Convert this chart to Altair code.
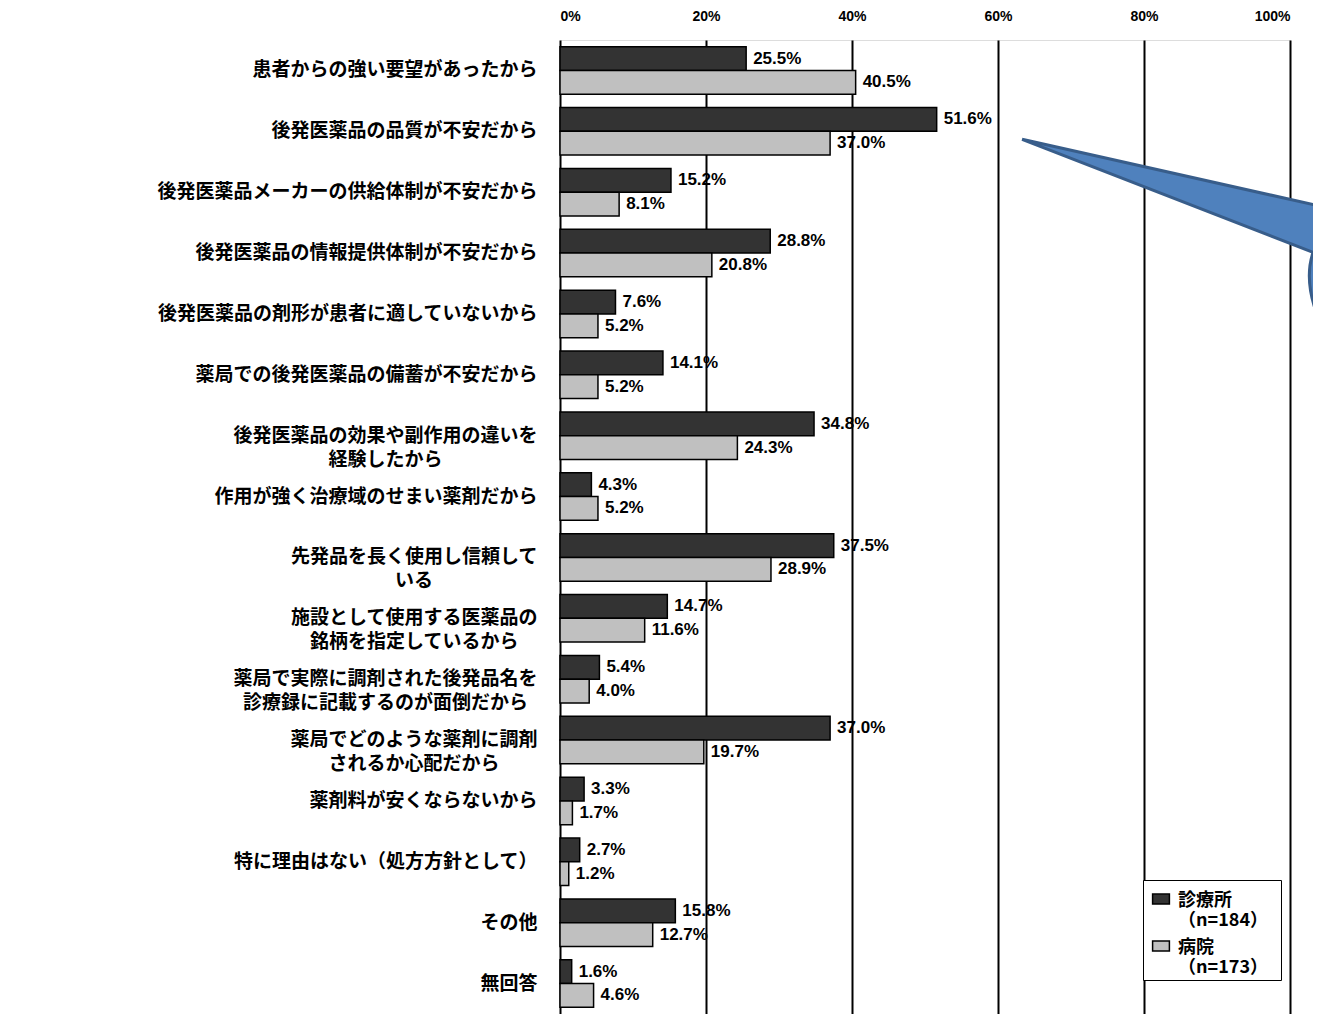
import altair as alt
import pandas as pd

# ---- data -------------------------------------------------------------
SP = "\u3000"   # ideographic space (used to centre the 2nd line of wrapped labels)
WJ = "\u2060"   # word joiner keeps trailing spaces from hanging
categories = [
    "患者からの強い要望があったから",
    "後発医薬品の品質が不安だから",
    "後発医薬品メーカーの供給体制が不安だから",
    "後発医薬品の情報提供体制が不安だから",
    "後発医薬品の剤形が患者に適していないから",
    "薬局での後発医薬品の備蓄が不安だから",
    "後発医薬品の効果や副作用の違いを\n経験したから" + SP * 5 + WJ,
    "作用が強く治療域のせまい薬剤だから",
    "先発品を長く使用し信頼して\nいる" + SP * 5 + "\u2002" + WJ,
    "施設として使用する医薬品の\n銘柄を指定しているから" + SP + WJ,
    "薬局で実際に調剤された後発品名を\n診療録に記載するのが面倒だから" + "\u2002" + WJ,
    "薬局でどのような薬剤に調剤\nされるか心配だから" + SP * 2 + WJ,
    "薬剤料が安くならないから",
    "特に理由はない（処方方針として）",
    "その他",
    "無回答",
]
series = ["診療所\n（n=184）" + SP + WJ, "病院\n（n=173）" + SP + WJ]
clinic = [25.5, 51.6, 15.2, 28.8, 7.6, 14.1, 34.8, 4.3, 37.5, 14.7, 5.4, 37.0, 3.3, 2.7, 15.8, 1.6]
hospital = [40.5, 37.0, 8.1, 20.8, 5.2, 5.2, 24.3, 5.2, 28.9, 11.6, 4.0, 19.7, 1.7, 1.2, 12.7, 4.6]
x_ticks = [0, 20, 40, 60, 80, 100]
colors = ["#333333", "#c0c0c0"]

# annotation callout (points at the 51.6% label)
callout_x = [63.3]
callout_cat = [categories[1]]

rows = []
for c, a, b in zip(categories, clinic, hospital):
    rows.append({"category": c, "series": series[0], "value": a})
    rows.append({"category": c, "series": series[1], "value": b})
df = pd.DataFrame(rows)
callout_df = pd.DataFrame({"x": callout_x, "category": callout_cat})

JP = "Noto Sans CJK JP"
W, H = 730, 974

x_enc = alt.X(
    "value:Q",
    scale=alt.Scale(domain=[0, 100], nice=False),
    axis=alt.Axis(
        orient="top", values=x_ticks, labelExpr="datum.value + '%'",
        title=None, domain=False, ticks=False, labelPadding=17,
        labelFont="Liberation Sans", labelFontWeight="bold", labelFontSize=14,
        labelColor="black", grid=True, gridColor="black", gridWidth=2, gridOpacity=1,
    ),
)
y_enc = alt.Y(
    "category:N", sort=categories,
    scale=alt.Scale(paddingInner=0.22, paddingOuter=0.11),
    axis=alt.Axis(
        title=None, domain=False, ticks=False, labelPadding=23, labelLimit=700,
        labelFont=JP, labelFontWeight="bold", labelFontSize=19, labelLineHeight=24,
        labelColor="black", labelExpr="split(datum.label, '\\n')", grid=False,
    ),
)
yoff = alt.YOffset("series:N", sort=series)

swatch = "M-1.4,0.35 L1.4,0.35 L1.4,2.0 L-1.4,2.0 Z"

bars = alt.Chart(df).mark_bar(stroke="black", strokeWidth=1.5).encode(
    x=x_enc, y=y_enc, yOffset=yoff,
    color=alt.Color(
        "series:N", sort=series,
        scale=alt.Scale(domain=series, range=colors),
        legend=alt.Legend(
            title=None, orient="none", legendX=583, legendY=840, direction="vertical",
            labelExpr="split(datum.label, '\\n')", labelFont=JP, labelFontWeight="bold",
            labelFontSize=18, labelBaseline="top", labelColor="black", labelOffset=8,
            labelLimit=300, symbolType=swatch, symbolSize=144, symbolOffset=6,
            symbolStrokeColor="black", symbolStrokeWidth=1.5, symbolOpacity=1,
            strokeColor="black", fillColor="white", padding=3, rowPadding=0,
        ),
    ),
)

labels = alt.Chart(df).transform_calculate(
    label="format(datum.value, '.1f') + '%'"
).mark_text(
    align="left", baseline="middle", dx=7, font="Liberation Sans",
    fontWeight="bold", fontSize=17, color="black",
).encode(x="value:Q", y=alt.Y("category:N", sort=categories), yOffset=yoff, text="label:N")

callout_path = "M0,8 L330,82 L330,240 L320,223 C295,198 280,153 291,121 Z"
callout = alt.Chart(callout_df).mark_point(
    shape=callout_path, filled=True, size=4, fill="#4f81bd", stroke="#385d8a",
    strokeWidth=3, opacity=1, fillOpacity=1, strokeOpacity=1,
).encode(x="x:Q", y=alt.Y("category:N", sort=categories))

chart = alt.layer(bars, labels, callout).properties(
    width=W, height=H,
    padding={"left": 552, "top": 32, "right": 23, "bottom": 0},
    autosize=alt.AutoSizeParams(type="none"),
).configure_view(stroke="black", strokeWidth=2).configure(background="white")

chart.save("out.html", embed_options={"renderer": "svg", "actions": False})
